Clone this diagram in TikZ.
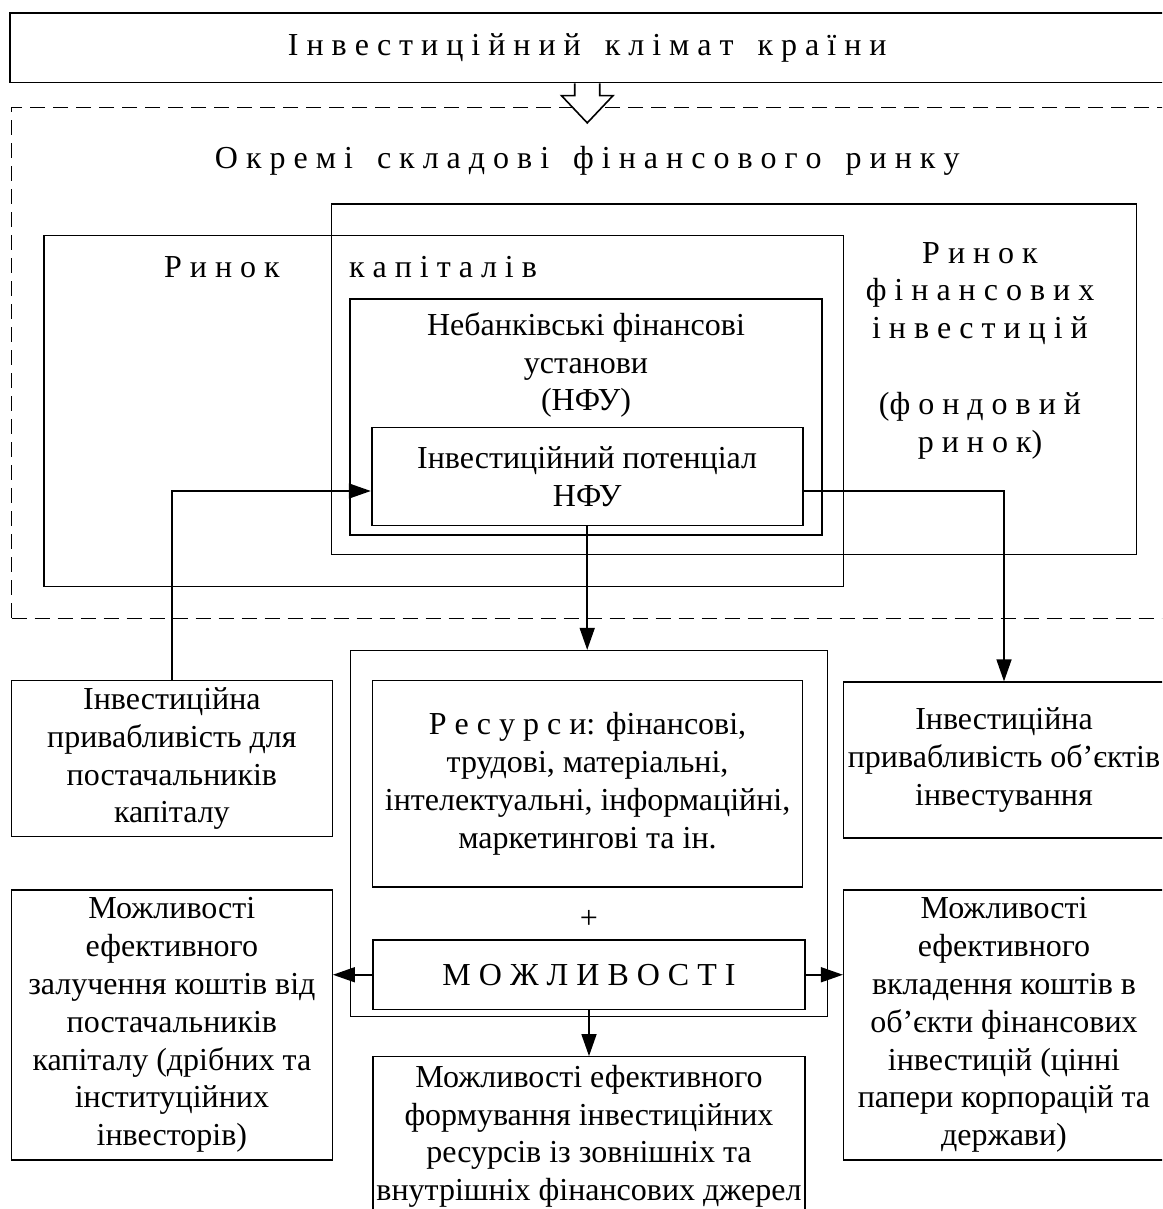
\documentclass[tikz,border=0pt]{standalone}
\usepackage{fontspec}
\setmainfont{Liberation Serif}
\usetikzlibrary{arrows.meta,fit,calc}

\newcommand{\boxfont}{\fontsize{16}{18.9}\selectfont}
\newcommand{\wgap}{\hspace{0.75em}}

\begin{document}
\begin{tikzpicture}[x=0.5pt,y=-0.5pt,
  box/.style={draw, line width=0.6pt, inner sep=0pt, align=center, font=\boxfont},
  boldbox/.style={box, line width=0.9pt},
  lbl/.style={inner sep=0pt, align=center, font=\boxfont},
  conn/.style={line width=0.8pt, -{Triangle[length=11pt,width=7.5pt]}}]
\useasboundingbox (0,0) rectangle (1162,1209);
\clip (0,0) rectangle (1162,1209);

\node[box, minimum width=577.25pt, minimum height=34.85pt] (klimat) at (587.25,47.85) {І н в е с т и ц і й н и й\wgap к л і м а т\wgap к р а ї н и};

\node[box, dash pattern=on 7.5pt off 4pt, fit={(11.5,107.7) (1164.5,618.3)}] (okremi) {};
\node[lbl, anchor=base] (okremiL) at (587.25,169) {О к р е м і\wgap с к л а д о в і\wgap ф і н а н с о в о г о\wgap р и н к у};

% hollow arrow
\draw[line width=0.8pt, fill=white] ($(klimat.south)+(-12.5,0)$) -- ++(0,12.3) -- ++(-13.3,0)
  -- ($(klimat.south)+(0,39.6)$) -- ($(klimat.south)+(25.8,12.3)$) -- ++(-13.3,0) -- ++(0,-12.3);

\node[box, fit={(331.7,204) (1136.8,554.5)}] (finrynok) {};
\node[lbl] (finrynokL) at (980,350.5) {Р и н о к\\ф і н а н с о в и х\\і н в е с т и ц і й\\[18.9pt](ф о н д о в и й\\р и н о к)};

\node[box, fit={(44,235.7) (843.5,586.7)}] (kaprynok) {};
\node[lbl, anchor=base] (kapA) at (222,277.3) {Р и н о к};
\node[lbl, anchor=base] (kapB) at (443,277.3) {к а п і т а л і в};

\node[box, fit={(350,299) (822,535)}] (nfu) {};
\node[lbl] (nfuL) at (586,365) {Небанківські фінансові\\установи\\(НФУ)};

\node[boldbox, minimum width=215.5pt, minimum height=49pt] (potential) at (587.2,476.5) {Інвестиційний потенціал\\НФУ};

\node[box, fit={(350.5,650.5) (827.5,1016.7)}] (mid) {};
\node[box, minimum width=215.15pt, minimum height=103.15pt] (resursy) at (587.55,783.85) {Р е с у р с и: фінансові,\\трудові, матеріальні,\\інтелектуальні, інформаційні,\\маркетингові та ін.};
\node[lbl] (plus) at (589,919) {+};
\node[boldbox, minimum width=216pt, minimum height=34.75pt] (mozh) at (589,974.75) {М О Ж Л И В О С Т І};
\node[box, minimum width=216pt, minimum height=79.65pt] (dzherela) at (589,1136.35) {Можливості ефективного\\формування інвестиційних\\ресурсів із зовнішніх та\\внутрішніх фінансових джерел};

\node[box, minimum width=160.4pt, minimum height=78pt] (postach) at (171.9,758.7) {Інвестиційна\\привабливість для\\постачальників\\капіталу};
\node[box, minimum width=160.4pt, minimum height=135pt] (zaluch) at (171.9,1025) {Можливості\\ефективного\\залучення коштів від\\постачальників\\капіталу (дрібних та\\інституційних\\інвесторів)};
\node[box, minimum width=160.5pt, minimum height=78pt] (obyekty) at (1004,760) {Інвестиційна\\привабливість об’єктів\\інвестування};
\node[box, minimum width=160.5pt, minimum height=135pt] (vkladen) at (1004,1025) {Можливості\\ефективного\\вкладення коштів в\\об’єкти фінансових\\інвестицій (цінні\\папери корпорацій та\\держави)};

\draw[conn] (postach.north) |- ($(potential.west)+(0,14.5)$);
\draw[conn] ($(potential.east)+(0,14.5)$) -| (obyekty.north);
\draw[conn] (potential.south) -- (potential.south |- mid.north);
\draw[conn] (mozh.west) -- (mozh.west -| zaluch.east);
\draw[conn] (mozh.east) -- (mozh.east -| vkladen.west);
\draw[conn] (mozh.south) -- (mozh.south |- dzherela.north);
\end{tikzpicture}
\end{document}
